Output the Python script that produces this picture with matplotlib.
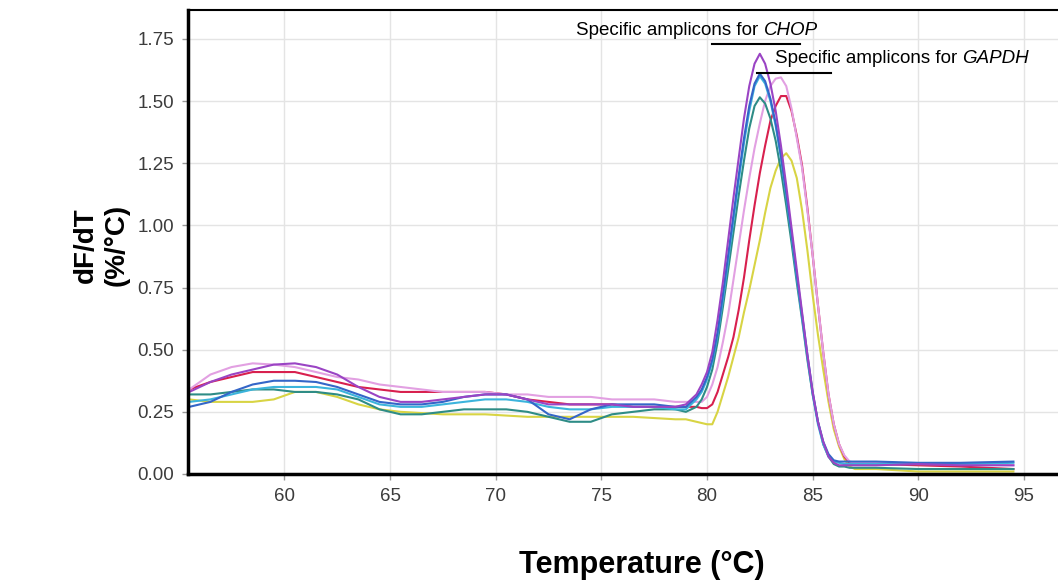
import matplotlib
matplotlib.use("Agg")
import matplotlib.pyplot as plt

# temperature grid (deg C)
temps_low = [55.5, 56.5, 57.5, 58.5, 59.5, 60.5, 61.5, 62.5, 63.5, 64.5, 65.5, 66.5,
             67.5, 68.5, 69.5, 70.5, 71.5, 72.5, 73.5, 74.5, 75.5, 76.5, 77.5, 78.5, 79.0]
temps_peak = [79.5, 79.75, 80.0, 80.25, 80.5, 80.75, 81.0, 81.25, 81.5, 81.75, 82.0,
              82.25, 82.5, 82.75, 83.0, 83.25, 83.5, 83.75, 84.0, 84.25, 84.5, 84.75,
              85.0, 85.25, 85.5, 85.75, 86.0, 86.25, 86.5, 86.75, 87.0]
temps_tail = [88.0, 90.0, 92.0, 94.5]
temps = temps_low + temps_peak + temps_tail

# CHOP curves
violet = ([0.33, 0.37, 0.40, 0.42, 0.44, 0.445, 0.43, 0.40, 0.35, 0.31, 0.29, 0.29,
           0.30, 0.31, 0.32, 0.32, 0.30, 0.28, 0.28, 0.28, 0.28, 0.27, 0.27, 0.27, 0.28]
          + [0.32, 0.36, 0.41, 0.49, 0.62, 0.77, 0.94, 1.11, 1.27, 1.43, 1.56, 1.65, 1.69,
             1.65, 1.57, 1.46, 1.32, 1.16, 0.99, 0.82, 0.65, 0.48, 0.33, 0.21, 0.13, 0.07,
             0.045, 0.035, 0.035, 0.035, 0.035]
          + [0.035, 0.04, 0.035, 0.035])
blue = ([0.27, 0.29, 0.33, 0.36, 0.375, 0.375, 0.37, 0.35, 0.32, 0.29, 0.28, 0.28,
         0.29, 0.31, 0.32, 0.32, 0.30, 0.24, 0.22, 0.26, 0.28, 0.28, 0.28, 0.27, 0.27]
        + [0.31, 0.34, 0.39, 0.46, 0.57, 0.72, 0.88, 1.04, 1.20, 1.35, 1.48, 1.57, 1.61,
           1.58, 1.51, 1.41, 1.28, 1.13, 0.97, 0.80, 0.64, 0.48, 0.33, 0.21, 0.13, 0.08,
           0.055, 0.05, 0.05, 0.05, 0.05]
        + [0.05, 0.045, 0.045, 0.05])
cyan = ([0.29, 0.30, 0.32, 0.34, 0.35, 0.35, 0.35, 0.34, 0.31, 0.28, 0.27, 0.27,
         0.28, 0.29, 0.30, 0.30, 0.29, 0.27, 0.26, 0.26, 0.27, 0.27, 0.27, 0.26, 0.26]
        + [0.30, 0.33, 0.38, 0.45, 0.56, 0.70, 0.86, 1.02, 1.18, 1.33, 1.46, 1.56, 1.60,
           1.57, 1.50, 1.40, 1.27, 1.12, 0.96, 0.79, 0.63, 0.47, 0.32, 0.20, 0.12, 0.07,
           0.05, 0.045, 0.04, 0.04, 0.04]
        + [0.04, 0.04, 0.04, 0.045])
teal = ([0.32, 0.32, 0.33, 0.34, 0.34, 0.33, 0.33, 0.32, 0.30, 0.26, 0.24, 0.24,
         0.25, 0.26, 0.26, 0.26, 0.25, 0.23, 0.21, 0.21, 0.24, 0.25, 0.26, 0.26, 0.25]
        + [0.27, 0.30, 0.35, 0.42, 0.53, 0.67, 0.82, 0.97, 1.12, 1.26, 1.39, 1.48, 1.515,
           1.49, 1.43, 1.34, 1.22, 1.08, 0.93, 0.77, 0.62, 0.46, 0.32, 0.21, 0.12, 0.07,
           0.04, 0.03, 0.03, 0.025, 0.025]
        + [0.025, 0.02, 0.02, 0.02])

# GAPDH curves
pink = ([0.34, 0.40, 0.43, 0.445, 0.44, 0.43, 0.41, 0.39, 0.38, 0.36, 0.35, 0.34,
         0.33, 0.33, 0.33, 0.32, 0.32, 0.31, 0.31, 0.31, 0.30, 0.30, 0.30, 0.29, 0.29]
        + [0.29, 0.29, 0.31, 0.36, 0.43, 0.53, 0.64, 0.78, 0.92, 1.06, 1.19, 1.31, 1.41,
           1.50, 1.56, 1.59, 1.595, 1.56, 1.47, 1.35, 1.23, 1.06, 0.88, 0.68, 0.49, 0.32,
           0.20, 0.12, 0.075, 0.05, 0.045]
        + [0.045, 0.04, 0.04, 0.035])
red = ([0.34, 0.37, 0.39, 0.41, 0.41, 0.41, 0.39, 0.37, 0.35, 0.34, 0.33, 0.33,
        0.33, 0.33, 0.33, 0.32, 0.30, 0.29, 0.28, 0.28, 0.28, 0.27, 0.27, 0.27, 0.27]
       + [0.27, 0.265, 0.265, 0.28, 0.33, 0.40, 0.47, 0.55, 0.66, 0.79, 0.94, 1.08, 1.21,
          1.32, 1.42, 1.48, 1.52, 1.52, 1.46, 1.36, 1.24, 1.07, 0.88, 0.68, 0.49, 0.32,
          0.20, 0.12, 0.07, 0.045, 0.04]
       + [0.04, 0.035, 0.03, 0.02])
yellow = ([0.30, 0.29, 0.29, 0.29, 0.30, 0.33, 0.33, 0.31, 0.28, 0.26, 0.25, 0.245,
           0.24, 0.24, 0.24, 0.235, 0.23, 0.23, 0.23, 0.23, 0.23, 0.23, 0.225, 0.22, 0.22]
          + [0.21, 0.205, 0.20, 0.20, 0.25, 0.32, 0.39, 0.47, 0.55, 0.65, 0.74, 0.84, 0.94,
             1.05, 1.15, 1.22, 1.27, 1.29, 1.26, 1.19, 1.06, 0.90, 0.72, 0.56, 0.42, 0.29,
             0.18, 0.11, 0.06, 0.03, 0.02]
          + [0.02, 0.01, 0.01, 0.01])

x_ticks = [60, 65, 70, 75, 80, 85, 90, 95]
y_ticks = [0.00, 0.25, 0.50, 0.75, 1.00, 1.25, 1.50, 1.75]


def main():
	plt.rcParams['font.family'] = ['Liberation Sans', 'DejaVu Sans']

	fig = plt.figure(figsize=(10.58, 5.82), dpi=100)
	ax = fig.add_axes([188 / 1058, 108 / 582, 1 - 188 / 1058, 464 / 582])

	curves = [(yellow, '#d8d444'), (red, '#d8204e'), (pink, '#e2a0e2'),
	          (teal, '#2e8c86'), (cyan, '#3cb4dc'), (blue, '#3466c8'),
	          (violet, '#9a44c4')]
	for vals, col in curves:
		ax.plot(temps, vals, color=col, lw=1.5)

	ax.set_xlim(55.44, 96.61)
	ax.set_ylim(0, 1.866)
	ax.set_xticks(x_ticks)
	ax.set_yticks(y_ticks)
	ax.set_yticklabels(['%.2f' % v for v in y_ticks])
	ax.grid(True, color='#e4e4e4', lw=1)
	ax.set_axisbelow(True)
	ax.tick_params(labelsize=13.5, labelcolor='#3c3c3c', color='#999999',
	               length=4, width=1, pad=6)

	ax.spines['right'].set_visible(False)
	ax.spines['left'].set_linewidth(2.5)
	ax.spines['bottom'].set_linewidth(2.5)
	ax.spines['top'].set_linewidth(1.5)

	# amplicon annotations
	ax.plot([80.22, 84.41], [1.730, 1.730], color='black', lw=1.5)
	ax.plot([82.35, 85.85], [1.612, 1.612], color='black', lw=1.5)
	ax.text(73.80, 1.767, 'Specific amplicons for ', fontsize=13.5, va='baseline')
	ax.text(83.22, 1.651, 'Specific amplicons for ', fontsize=13.5, va='baseline')
	ax.annotate('CHOP', xy=(1, 0), xycoords=ax.texts[0], fontsize=13.5,
	            style='italic', va='bottom')
	ax.annotate('GAPDH', xy=(1, 0), xycoords=ax.texts[1], fontsize=13.5,
	            style='italic', va='bottom')

	fig.text(101 / 1058, 1 - 245 / 582, 'dF/dT\n(%/°C)', rotation=90,
	         ha='center', va='center', fontsize=20, fontweight='bold',
	         multialignment='center', linespacing=1.25)
	fig.text(642 / 1058, 1 - 565 / 582, 'Temperature (°C)', ha='center',
	         va='center', fontsize=22, fontweight='bold')

	fig.savefig('out.png', dpi=100)


if __name__ == "__main__":
	main()
